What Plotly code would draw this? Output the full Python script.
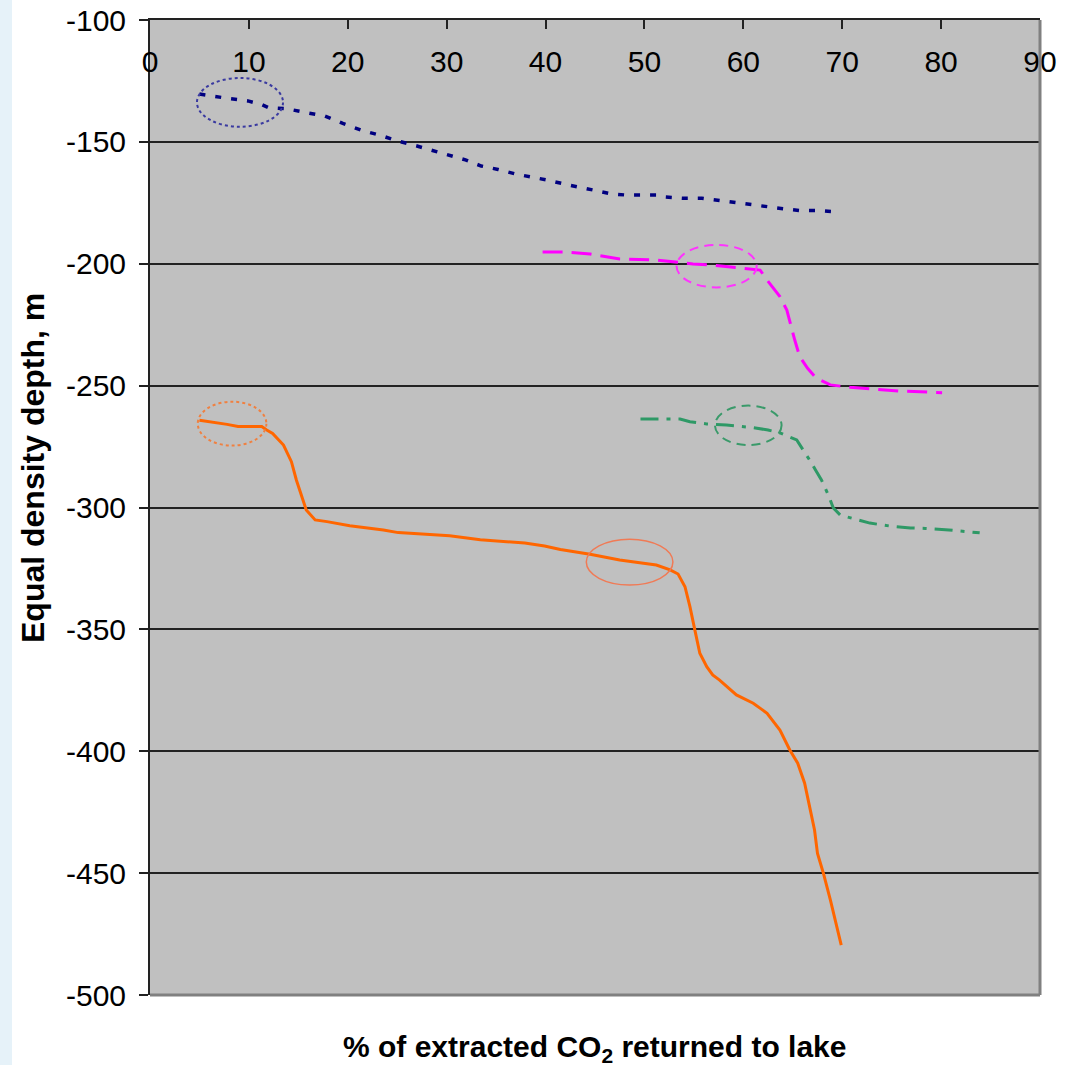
import plotly.graph_objects as go

# ---------------- data ----------------
navy_x = [5, 6.6, 8.1, 9.9, 11.3, 12, 13.8, 15.8, 17.7, 19.5, 21.5, 23.3, 24.9, 27, 28.6, 30,
          31.9, 33.5, 35.2, 37, 38.5, 40.1, 42, 43.5, 45.1, 46.6, 48.1, 49.9, 51.2, 52, 53.8,
          55.8, 58, 59.9, 62.1, 64, 65.7, 67.8, 69.8]
navy_y = [-130.4, -131.5, -132.3, -133.2, -134.7, -136, -136.4, -138, -139.4, -142.4, -145.4,
          -147.3, -149.5, -151.7, -153.6, -155.5, -157.4, -159.9, -161.3, -163.2, -164.3,
          -165.6, -167.4, -168.8, -170, -171.3, -171.8, -171.8, -171.8, -172.6, -173.1,
          -173.1, -174.3, -175.4, -176.3, -177.4, -178.2, -178.2, -178.8]

magenta_x = [39.7, 42, 44.5, 47.5, 51.3, 53.1, 54.9, 56.6, 58.3, 60.2, 61.7, 62.4, 63.7, 64.4,
             64.9, 65.2, 65.7, 66.5, 67.4, 68.8, 70.8, 73.1, 75.8, 80.1]
magenta_y = [-195.2, -195.2, -196, -198, -198.5, -199.3, -200.1, -200.5, -201.3, -202.2,
             -202.6, -206.7, -213.5, -219, -227.2, -231.3, -238.1, -242.9, -247, -249.7,
             -250.7, -251.4, -252.2, -252.9]

green_x = [49.6, 53.6, 54.6, 56.3, 58.3, 60.7, 62.5, 63.7, 65.4, 66.2, 66.7, 67.3, 67.9, 68.6,
           69.1, 69.8, 71.5, 72.8, 74.8, 76.9, 78.4, 80.8, 83.9]
green_y = [-263.7, -263.7, -264.8, -265.7, -266.2, -267.1, -268.2, -269.4, -272.3, -277.2,
           -280.5, -284.6, -288.7, -294.9, -300.2, -303.1, -305.1, -306.4, -307.6, -308.4,
           -308.6, -309.2, -310.4]

orange_x = [5.0, 6.2, 7.8, 8.9, 11.3, 11.8, 12.4, 13.5, 14.3, 14.8, 15.5, 15.8, 16.7, 17.9,
            20.2, 23.6, 25.1, 30.3, 33.4, 35.4, 37.9, 39.9, 41.5, 44.5, 47.5, 49.9, 51.2,
            52.6, 53.4, 54.1, 54.6, 55.1, 55.6, 56.3, 56.9, 57.6, 59.3, 61, 62.4, 63.7, 64.7,
            65.5, 66.2, 66.7, 67.2, 67.5, 68.1, 68.8, 69.4, 69.9]
orange_y = [-264.2, -264.8, -265.9, -266.8, -266.8, -268.2, -269.6, -274.4, -281.2, -288.7,
            -296.9, -301, -305.1, -305.8, -307.5, -309.2, -310.3, -311.6, -313.2, -313.8,
            -314.6, -315.8, -317.2, -319.2, -321.5, -322.9, -323.6, -325.6, -327.3, -332.5,
            -340.7, -350.3, -359.8, -365.3, -368.7, -370.8, -376.9, -380.3, -384.4, -391.3,
            -399.5, -404.9, -413.1, -422.7, -432.3, -441.9, -450.1, -461, -470.6, -479.5]

# highlight ellipses: centre x, centre y, half-width (x units), half-height (m)
ell_cx = [9.1, 57.3, 60.5, 8.3, 48.5]
ell_cy = [-133.8, -201.0, -266.3, -265.6, -322.4]
ell_rx = [4.35, 4.05, 3.37, 3.47, 4.38]
ell_ry = [10.0, 8.7, 8.1, 9.0, 9.4]

x_ticks = [0, 10, 20, 30, 40, 50, 60, 70, 80, 90]
y_ticks = [-100, -150, -200, -250, -300, -350, -400, -450, -500]

# ---------------- figure ----------------
fig = go.Figure()
fig.add_trace(go.Scatter(x=navy_x, y=navy_y, mode="lines",
                         line=dict(color="#000080", width=3.5, dash="6px,10px")))
fig.add_trace(go.Scatter(x=magenta_x, y=magenta_y, mode="lines",
                         line=dict(color="#FF00FF", width=3, dash="20px,9px")))
fig.add_trace(go.Scatter(x=green_x, y=green_y, mode="lines",
                         line=dict(color="#2E9966", width=3, dash="18px,8px,4px,8px")))
fig.add_trace(go.Scatter(x=orange_x, y=orange_y, mode="lines",
                         line=dict(color="#FF6600", width=3)))

ell_styles = [
    dict(color="#3A3AA0", width=2, dash="dot"),
    dict(color="#FF33FF", width=2, dash="9px,6px"),
    dict(color="#3A9A6A", width=2, dash="9px,6px"),
    dict(color="#F08040", width=2, dash="dot"),
    dict(color="#F07A55", width=1.5),
]
shapes = []
for cx, cy, rx, ry, st in zip(ell_cx, ell_cy, ell_rx, ell_ry, ell_styles):
    shapes.append(dict(type="circle", xref="x", yref="y",
                       x0=cx - rx, x1=cx + rx, y0=cy - ry, y1=cy + ry, line=st))
# right / bottom grey border of plot area
shapes.append(dict(type="line", xref="paper", yref="paper", x0=1, x1=1, y0=0, y1=1,
                   line=dict(color="#808080", width=3)))
shapes.append(dict(type="line", xref="paper", yref="paper", x0=0, x1=1, y0=0, y1=0,
                   line=dict(color="#808080", width=3)))
# pale blue strip on far left
shapes.append(dict(type="rect", xref="paper", yref="paper", x0=-150 / 890, x1=-138 / 890,
                   y0=-70 / 975, y1=1 + 20 / 975, fillcolor="#E6F2F9", line=dict(width=0),
                   layer="below"))

fig.update_layout(
    width=1066, height=1065,
    margin=dict(l=150, r=26, t=20, b=70, autoexpand=False),
    paper_bgcolor="white", plot_bgcolor="#C0C0C0",
    showlegend=False,
    font=dict(family="Liberation Sans, Arial", color="black"),
    shapes=shapes,
    xaxis=dict(range=[0, 90], side="top", tickvals=x_ticks, ticktext=[str(v) for v in x_ticks],
               ticks="inside", ticklen=9, tickwidth=2, tickcolor="#222",
               ticklabelposition="inside", ticklabeloverflow="allow", ticklabelstandoff=25,
               tickfont=dict(size=30, color="black"), showgrid=False, zeroline=False,
               automargin=False, showline=True, linecolor="#222", linewidth=2),
    yaxis=dict(range=[-500, -100], tickvals=y_ticks, ticktext=[str(v) for v in y_ticks],
               ticks="outside", ticklen=9, tickwidth=2, tickcolor="#222",
               tickfont=dict(size=30, color="black"), showgrid=True, gridcolor="#222",
               gridwidth=2, zeroline=False, showline=True, linecolor="#222", linewidth=2,
               ticklabelstandoff=7, automargin=False),
    annotations=[
        dict(text="<b>% of extracted CO<sub>2</sub> returned to lake</b>", xref="paper",
             yref="paper", x=0.5, y=0, yshift=-53, xanchor="center", yanchor="middle",
             showarrow=False,
             font=dict(size=30, family="Liberation Sans, Arial", color="black")),
        dict(text="<b>Equal density depth, m</b>", xref="paper", yref="paper",
             x=-117 / 890, y=(995 - 468) / 975, xanchor="center", yanchor="middle",
             textangle=-90, showarrow=False,
             font=dict(size=32, family="Liberation Sans, Arial", color="black")),
    ],
)

fig.write_html("out.html", post_script="document.body.style.margin='0';",
               config={"displayModeBar": False})
